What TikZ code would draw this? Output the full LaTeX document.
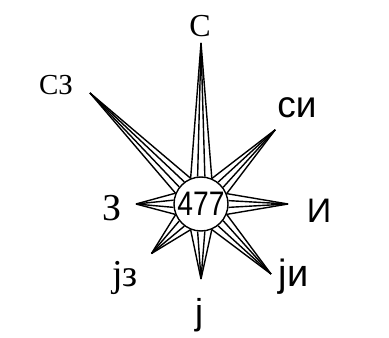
\documentclass[tikz,border=0pt]{standalone}
\usepackage{fontspec}
\usetikzlibrary{calc}
\newfontfamily\serifcyr{Liberation Serif}
\newfontfamily\sanscyr{Liberation Sans}
\newcommand{\lblsize}[1]{\fontsize{#1}{#1}\selectfont}

\begin{document}
\begin{tikzpicture}[x=1pt, y=1pt,
  spike/.style={line width=1.4pt, line join=round},
  hub/.style={circle, draw, line width=1.4pt, fill=white,
    minimum size=54pt, inner sep=0pt, font=\sanscyr\lblsize{34}},
  serlbl/.style={inner sep=0pt, font=\serifcyr},
  sanlbl/.style={inner sep=0pt, font=\sanscyr}
]
\useasboundingbox (0,0) rectangle (389,338);
\coordinate (c) at (201,134);
\node[hub] (hub) at (c) {\scalebox{0.83}[1]{477}};
% spikes of the rose
\foreach \ang/\len/\nm in {90/161/n, 45/105/ne, 0/87/e, -45/99/se,
    -90/75/s, -135/70/sw, 180/65/w, 135/157/nw} {
  \coordinate (\nm) at ($(c)+(\ang:\len)$);
  \foreach \off in {-22.5,-7.5,7.5,22.5} {
    \pgfmathsetmacro{\a}{\ang+\off}
    \draw[spike] (hub.\a) -- (\nm);
  }
}
% direction labels
\node[serlbl, font=\serifcyr\lblsize{32}] (lbln) at (200,312) {С};
\node[serlbl, font=\serifcyr\lblsize{29}] (lblnw) at (56,252.5) {СЗ};
\node[serlbl, font=\serifcyr\lblsize{38}] (lblw) at (112.5,130) {З};
\node[serlbl, font=\serifcyr\lblsize{38}, anchor=base] (lblsw) at (125,52) {јз};
\node[sanlbl, font=\sanscyr\lblsize{37}, anchor=base] (lblne) at (297,220) {си};
\node[sanlbl, font=\sanscyr\lblsize{34}, anchor=base] (lble) at (319,115) {И};
\node[sanlbl, font=\sanscyr\lblsize{38}, anchor=base] (lblse) at (293.5,51) {ји};
\node[sanlbl, font=\sanscyr\lblsize{36}, anchor=base] (lbls) at (199,13) {ј};
\end{tikzpicture}
\end{document}
